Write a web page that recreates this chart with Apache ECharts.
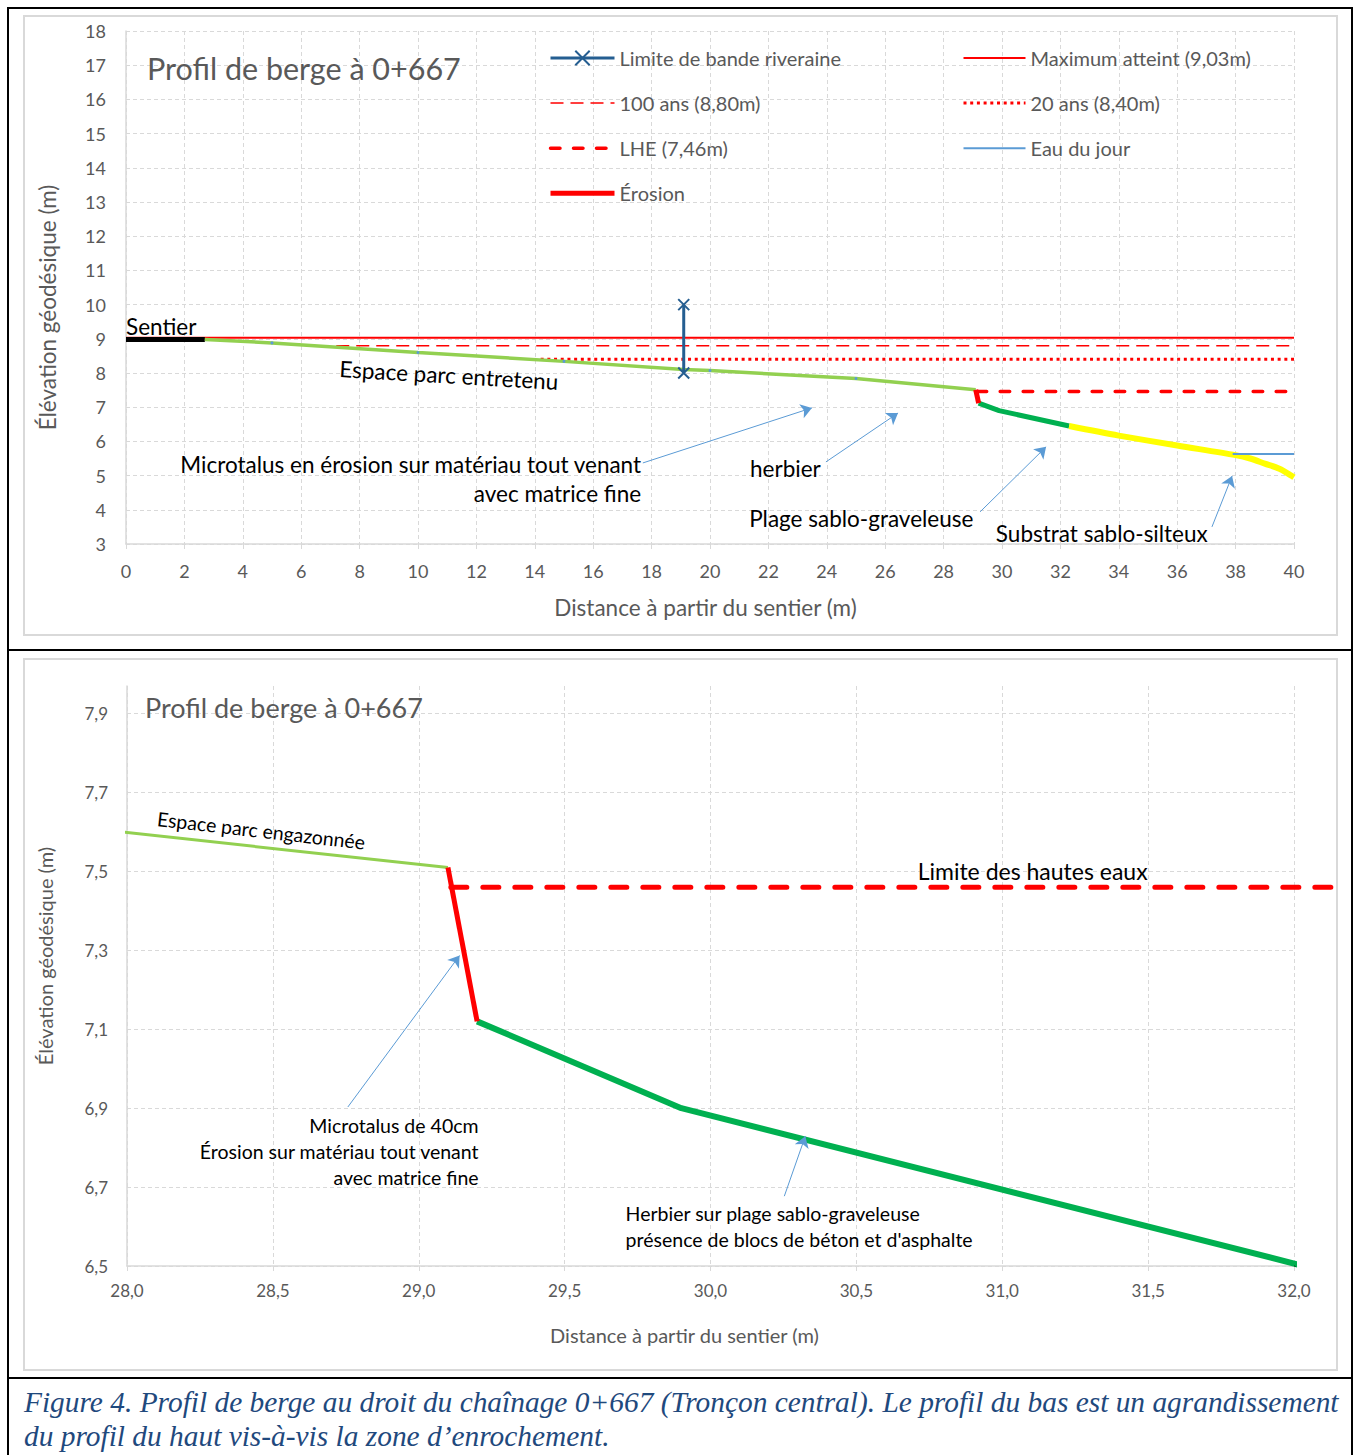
<!DOCTYPE html>
<html><head><meta charset="utf-8">
<script src="https://cdn.jsdelivr.net/npm/echarts@6/dist/echarts.min.js"></script>
<style>html,body{margin:0;padding:0;background:#fff}#c{width:1353px;height:1455px}</style>
</head><body><div id="c"></div>
<script>
// ---------------- DATA ----------------
const sentierX = [0, 2.7];
const sentierY = [8.98, 8.98];
const terrainX = [2.7, 5, 10, 15, 19.1, 20, 25, 29.1];
const terrainY = [8.98, 8.88, 8.6, 8.34, 8.1, 8.07, 7.84, 7.51];
const erosionX = [29.1, 29.2];
const erosionY = [7.51, 7.12];
const herbierX = [29.2, 29.9, 32.3];
const herbierY = [7.12, 6.9, 6.45];
const substratX = [32.3, 34, 36, 38, 38.5, 39, 39.5, 40];
const substratY = [6.45, 6.17, 5.88, 5.6, 5.5, 5.35, 5.2, 4.95];
const limiteX = [19.1, 19.1];
const limiteY = [8, 10];
const maxX = [0, 40];        const maxLevel = 9.03;
const centX = [7.2, 40];     const centLevel = 8.80;
const vingtX = [14.2, 40];   const vingtLevel = 8.40;
const lheX = [29.15, 40];    const lheLevel = 7.46;
const lheZoomX = [29.11, 32.2];
const eauX = [37.9, 40];     const eauLevel = 5.63;
const trendX = [32, 32.2];
const trendY = [6.5, 6.439];

const topXTicks = [0, 40, 2];
const topYTicks = [3, 18, 1];
const zoomXTicks = [28, 28.5, 29, 29.5, 30, 30.5, 31, 31.5, 32];
const zoomYTicks = [6.5, 6.7, 6.9, 7.1, 7.3, 7.5, 7.7, 7.9];
const zoomYMax = 7.97;

const names = {
  limite: 'Limite de bande riveraine', max: 'Maximum atteint (9,03m)',
  cent: '100 ans (8,80m)', vingt: '20 ans (8,40m)', lhe: 'LHE (7,46m)',
  eau: 'Eau du jour', erosion: 'Érosion'
};

// annotations (data coordinates)
const notesTop = [
  {text: 'Sentier', coord: [0, 9.37], place: 'right'},
  {text: 'Espace parc entretenu', coord: [11.06, 7.94], place: 'inside', rotate: -3.4},
  {text: 'Microtalus en érosion sur matériau tout venant\navec matrice fine', coord: [17.64, 4.915], place: 'left'},
  {text: 'herbier', coord: [21.37, 5.22], place: 'right'},
  {text: 'Plage sablo-graveleuse', coord: [21.34, 3.76], place: 'right'},
  {text: 'Substrat sablo-silteux', coord: [29.79, 3.32], place: 'right'}
];
const arrowsTop = [
  [[17.7, 5.37], [23.49, 6.98]],
  [[23.97, 5.40], [26.44, 6.83]],
  [[29.25, 3.94], [31.51, 5.84]],
  [[37.19, 3.50], [37.88, 4.99]]
];
const notesZoom = [
  {text: 'Espace parc engazonnée', coord: [28.46, 7.604], place: 'inside', rotate: -6.5, size: 19.5},
  {text: 'Limite des hautes eaux', coord: [30.71, 7.50], place: 'right', size: 23},
  {text: 'Microtalus de 40cm\nÉrosion sur matériau tout venant\navec matrice fine', coord: [29.205, 6.789], place: 'left'},
  {text: 'Herbier sur plage sablo-graveleuse\nprésence de blocs de béton et d\'asphalte', coord: [29.709, 6.601], place: 'right'}
];
const arrowsZoom = [
  [[28.757, 6.903], [29.140, 7.287]],
  [[30.253, 6.677], [30.325, 6.829]]
];

// ---------------- HELPERS ----------------
const FONT = 'Lato';
const GREY = '#595959';
const GRID = '#d9d9d9';
function pts(xs, ys) { return xs.map((x, i) => [x, ys[i]]); }
function flat(xs, y) { return xs.map(x => [x, y]); }
function comma(v) { return v.toFixed(1).replace('.', ','); }
function notePoints(notes, size, lh) {
  return notes.map(n => ({
    name: n.text, coord: n.coord, symbol: 'circle', symbolSize: 0,
    itemStyle: {color: 'rgba(0,0,0,0)'},
    label: {
      show: true, formatter: n.text, position: n.place, distance: 0,
      rotate: n.rotate || 0, color: '#000', fontSize: n.size || size, fontFamily: FONT, lineHeight: lh,
      align: n.place === 'left' ? 'right' : (n.place === 'right' ? 'left' : 'center')
    }
  }));
}
function arrowLines(list) { return list.map(a => [{coord: a[0]}, {coord: a[1]}]); }
function line(name, data, color, width, type, gi, extra) {
  return Object.assign({
    name: name, type: 'line', xAxisIndex: gi, yAxisIndex: gi, data: data,
    symbol: 'none', silent: true, z: 2,
    lineStyle: {color: color, width: width, type: type || 'solid'},
    itemStyle: {color: color}
  }, extra || {});
}
const noSym = {opacity: 0};

const splitStyle = {show: true, lineStyle: {color: GRID, type: [4, 3], width: 1}};
const XSYM = 'path://M0,0L10,10M10,0L0,10';

// zoom panel geometry: the overflow grid spans the same scale, wider box
const zoomLeft = 127, zoomTop = 686, zoomW = 1167, zoomH = 580, overflowW = 1210;
const zoomXMin = zoomXTicks[0], zoomXMax = zoomXTicks[zoomXTicks.length - 1];
const overflowXMax = zoomXMin + (zoomXMax - zoomXMin) * overflowW / zoomW;

const hiddenAxis = {show: false, axisLine: {show: false}, axisTick: {show: false},
                    axisLabel: {show: false}, splitLine: {show: false}};

const option = {
  animation: false,
  backgroundColor: '#fff',
  title: [
    {text: 'Profil de berge à 0+667', left: 147, top: 52, padding: 0,
     textStyle: {fontSize: 30.5, color: GREY, fontWeight: 'normal', fontFamily: FONT}},
    {text: 'Profil de berge à 0+667', left: 145, top: 694, padding: 0,
     textStyle: {fontSize: 27, color: GREY, fontWeight: 'normal', fontFamily: FONT}}
  ],
  legend: [
    {left: 548, top: 48, padding: 0, orient: 'vertical', itemWidth: 64, itemHeight: 18, itemGap: 25.1,
     selectedMode: false, lineStyle: {width: 'inherit'},
     textStyle: {fontSize: 20, color: GREY, fontFamily: FONT},
     data: [{name: names.limite}, {name: names.cent, itemStyle: noSym},
            {name: names.lhe, itemStyle: noSym}, {name: names.erosion, itemStyle: noSym}]},
    {left: 962, top: 48, padding: 0, orient: 'vertical', itemWidth: 62, itemHeight: 18, itemGap: 25.1,
     selectedMode: false, lineStyle: {width: 'inherit'},
     textStyle: {fontSize: 20, color: GREY, fontFamily: FONT},
     data: [{name: names.max, itemStyle: noSym}, {name: names.vingt, itemStyle: noSym},
            {name: names.eau, itemStyle: noSym}]}
  ],
  grid: [
    {left: 126, top: 31, width: 1168, height: 513},
    {left: zoomLeft, top: zoomTop, width: zoomW, height: zoomH},
    {left: zoomLeft, top: zoomTop, width: overflowW, height: zoomH}
  ],
  xAxis: [
    {type: 'value', gridIndex: 0, min: topXTicks[0], max: topXTicks[1], interval: topXTicks[2],
     name: 'Distance à partir du sentier (m)', nameLocation: 'middle', nameGap: 52,
     nameTextStyle: {fontSize: 22.5, color: GREY, fontFamily: FONT, padding: [0, 9, 0, 0]},
     axisLine: {show: true, lineStyle: {color: GRID, width: 1.5}},
     axisTick: {show: true, length: 5, lineStyle: {color: GRID}},
     axisLabel: {fontSize: 18, color: GREY, fontFamily: FONT, margin: 18},
     splitLine: splitStyle},
    {type: 'value', gridIndex: 1, min: zoomXMin, max: zoomXMax, interval: 0.5,
     name: 'Distance à partir du sentier (m)', nameLocation: 'middle', nameGap: 59,
     nameTextStyle: {fontSize: 20, color: GREY, fontFamily: FONT, padding: [0, 52, 0, 0]},
     axisLine: {show: true, lineStyle: {color: GRID, width: 1.5}},
     axisTick: {show: true, length: 5, lineStyle: {color: GRID}, customValues: zoomXTicks},
     axisLabel: {fontSize: 17, color: GREY, fontFamily: FONT, margin: 16, formatter: comma, customValues: zoomXTicks},
     splitLine: splitStyle},
    Object.assign({type: 'value', gridIndex: 2, min: zoomXMin, max: overflowXMax}, hiddenAxis)
  ],
  yAxis: [
    {type: 'value', gridIndex: 0, min: topYTicks[0], max: topYTicks[1], interval: topYTicks[2],
     name: 'Élévation géodésique (m)', nameLocation: 'middle', nameGap: 67,
     nameTextStyle: {fontSize: 22.5, color: GREY, fontFamily: FONT, padding: [0, 40, 0, 0]},
     axisLine: {show: true, lineStyle: {color: GRID, width: 1.5}},
     axisTick: {show: false},
     axisLabel: {fontSize: 18, color: GREY, fontFamily: FONT, margin: 20},
     splitLine: splitStyle},
    {type: 'value', gridIndex: 1, min: zoomYTicks[0], max: zoomYMax, interval: 0.2,
     name: 'Élévation géodésique (m)', nameLocation: 'middle', nameGap: 72,
     nameTextStyle: {fontSize: 20, color: GREY, fontFamily: FONT, padding: [0, 0, 0, 40]},
     axisLine: {show: true, lineStyle: {color: GRID, width: 1.5}},
     axisTick: {show: false, customValues: zoomYTicks},
     axisLabel: {fontSize: 17, color: GREY, fontFamily: FONT, margin: 19, formatter: comma, customValues: zoomYTicks},
     splitLine: splitStyle},
    Object.assign({type: 'value', gridIndex: 2, min: zoomYTicks[0], max: zoomYMax}, hiddenAxis)
  ],
  series: [
    // ---- top chart ----
    line(names.max, flat(maxX, maxLevel), '#FF0000', 2, 'solid', 0),
    line(names.cent, flat(centX, centLevel), '#FF0000', 1.5, [13, 7], 0),
    line(names.vingt, flat(vingtX, vingtLevel), '#FF0000', 3, [3, 3.7], 0),
    line('Sentier', pts(sentierX, sentierY), '#000000', 5, 'solid', 0),
    line('Terrain', pts(terrainX, terrainY), '#92D050', 3.5, 'solid', 0, {
      symbol: 'circle', showSymbol: true, itemStyle: {color: '#5B9BD5'},
      symbolSize: v => (v[0] % 5 === 0 ? 3 : 0),
      markPoint: {silent: true, data: notePoints(notesTop, 22.5, 29)},
      markLine: {silent: true, symbol: ['none', 'arrow'], symbolSize: 11,
        lineStyle: {color: '#5B9BD5', width: 1, type: 'solid'}, label: {show: false},
        data: arrowLines(arrowsTop)}
    }),
    line('Herbier', pts(herbierX, herbierY), '#00B050', 5, 'solid', 0),
    line('Substrat', pts(substratX, substratY), '#FFFF00', 6, 'solid', 0, {smooth: 0.3}),
    line(names.lhe, flat(lheX, lheLevel), '#FF0000', 3.5, [9.5, 13.5], 0, {lineStyle: {color: '#FF0000', width: 3.5, type: [9.5, 13.5], cap: 'round'}}),
    line(names.eau, flat(eauX, eauLevel), '#5B9BD5', 2, 'solid', 0),
    line(names.erosion, pts(erosionX, erosionY), '#FF0000', 5, 'solid', 0, {z: 3}),
    line(names.limite, pts(limiteX, limiteY), '#255E91', 3, 'solid', 0, {
      z: 4, symbol: XSYM, symbolSize: 11, showSymbol: true,
      itemStyle: {color: '#255E91', borderColor: '#255E91', borderWidth: 2}
    }),
    // ---- zoom chart ----
    line('Terrain zoom', pts(terrainX, terrainY), '#92D050', 3, 'solid', 1, {
      markPoint: {silent: true, data: notePoints(notesZoom, 19.5, 26)},
      markLine: {silent: true, symbol: ['none', 'arrow'], symbolSize: 11,
        lineStyle: {color: '#5B9BD5', width: 1, type: 'solid'}, label: {show: false},
        data: arrowLines(arrowsZoom)}
    }),
    line('Herbier zoom', pts(herbierX, herbierY), '#00B050', 6, 'solid', 1),
    line('Tendance zoom', pts(trendX, trendY), '#000000', 1, [2, 2], 2),
    line('LHE zoom', flat(lheZoomX, lheLevel), '#FF0000', 5, [16, 16], 2, {
      lineStyle: {color: '#FF0000', width: 5, type: [16, 16], cap: 'round'}}),
    line('Érosion zoom', pts(erosionX, erosionY), '#FF0000', 5, 'solid', 1, {z: 3})
  ],
  graphic: [
    {type: 'rect', silent: true, shape: {x: 24, y: 16, width: 1313, height: 619}, style: {fill: 'none', stroke: '#d9d9d9', lineWidth: 2}},
    {type: 'rect', silent: true, shape: {x: 24, y: 659, width: 1313, height: 711}, style: {fill: 'none', stroke: '#d9d9d9', lineWidth: 2}},
    {type: 'rect', silent: true, shape: {x: 8, y: 8, width: 1344, height: 1470}, style: {fill: 'none', stroke: '#000', lineWidth: 2}},
    {type: 'line', silent: true, shape: {x1: 8, y1: 650, x2: 1352, y2: 650}, style: {stroke: '#000', lineWidth: 2}},
    {type: 'line', silent: true, shape: {x1: 8, y1: 1378, x2: 1352, y2: 1378}, style: {stroke: '#000', lineWidth: 2}},
    {type: 'text', silent: true, left: 24, top: 1385, style: {
      text: 'Figure 4. Profil de berge au droit du chaînage 0+667 (Tronçon central). Le profil du bas est un agrandissement\ndu profil du haut vis-à-vis la zone d’enrochement.',
      font: 'italic 29.4px "Liberation Serif"', fill: '#1F497D', lineHeight: 34}}
  ]
};

const chart = echarts.init(document.getElementById('c'), null, {renderer: 'svg', width: 1353, height: 1455});
chart.setOption(option);
</script>
</body></html>
